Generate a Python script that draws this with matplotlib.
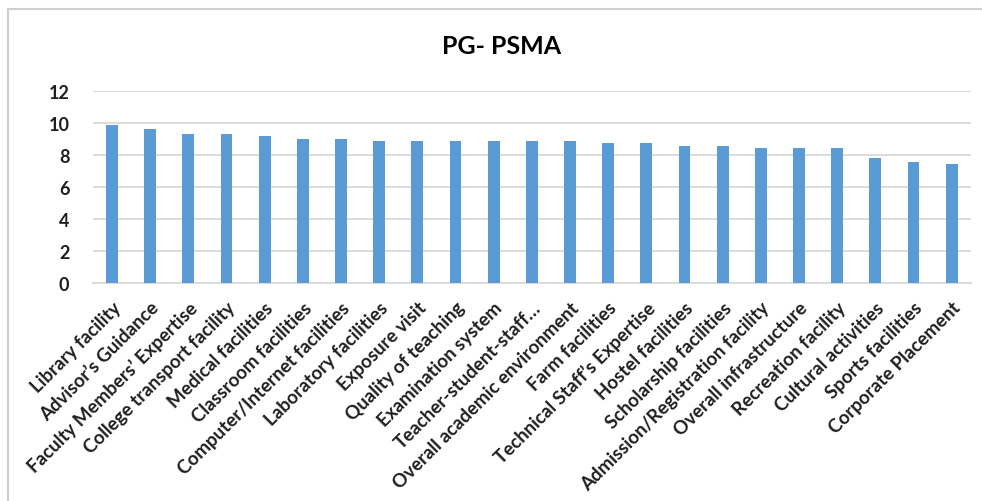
import matplotlib.pyplot as plt
from matplotlib.patches import Rectangle
import numpy as np

# Data
categories = [
    "Library facility", "Advisor’s Guidance", "Faculty Members’ Expertise",
    "College transport facility", "Medical facilities", "Classroom facilities",
    "Computer/Internet facilities", "Laboratory facilities", "Exposure visit",
    "Quality of teaching", "Examination system", "Teacher-student-staff…",
    "Overall academic environment", "Farm facilities",
    "Technical Staff’s Expertise", "Hostel facilities", "Scholarship facilities",
    "Admission/Registration facility", "Overall infrastructure",
    "Recreation facility", "Cultural activities", "Sports facilities",
    "Corporate Placement",
]
scores = [9.86, 9.6, 9.28, 9.28, 9.16, 9.01, 9.01, 8.88, 8.88, 8.88, 8.88,
          8.87, 8.87, 8.76, 8.76, 8.55, 8.55, 8.43, 8.43, 8.43, 7.83, 7.58, 7.43]
yticks = [0, 2, 4, 6, 8, 10, 12]

plt.rcParams['font.family'] = ['Lato', 'DejaVu Sans']
text_color = '#1f1f1f'

fig = plt.figure(figsize=(9.82, 5.02), dpi=100)
fig.patch.set_facecolor('white')

# outer chart border (runs off the right and bottom edges)
fig.patches.append(Rectangle((8 / 982, -0.1), 1.2, 1 - 10 / 502 + 0.1,
                             transform=fig.transFigure, fill=False,
                             edgecolor='#D0D0D0', linewidth=1.5))

ax = fig.add_axes([93 / 982, 1 - 284.3 / 502, (970.7 - 93) / 982, 192.6 / 502])
x = np.arange(len(categories))
ax.bar(x, scores, width=0.31, color='#5B9BD5', zorder=3)

ax.set_xlim(-0.5, len(categories) - 0.5)
ax.set_ylim(0, 12)
ax.set_yticks(yticks)
ax.set_yticklabels([str(t) for t in yticks], fontsize=13, fontweight='bold',
                   color=text_color)
ax.set_xticks(x)
ax.set_xticklabels(categories, rotation=45, ha='right', rotation_mode='anchor',
                   fontsize=13.5, fontweight='bold', color=text_color)
ax.tick_params(axis='both', length=0)
ax.tick_params(axis='y', pad=17)
ax.tick_params(axis='x', pad=11)

ax.grid(axis='y', color='#D9D9D9', linewidth=1.3, zorder=0)
for s in ['top', 'right', 'left']:
    ax.spines[s].set_visible(False)
ax.spines['bottom'].set_color('#D9D9D9')
ax.spines['bottom'].set_linewidth(1.3)

fig.text(0.511, 1 - 47 / 502, "PG- PSMA", ha='center', va='center',
         fontsize=18, fontweight='bold', color='black')

fig.savefig("out.png", dpi=100)
